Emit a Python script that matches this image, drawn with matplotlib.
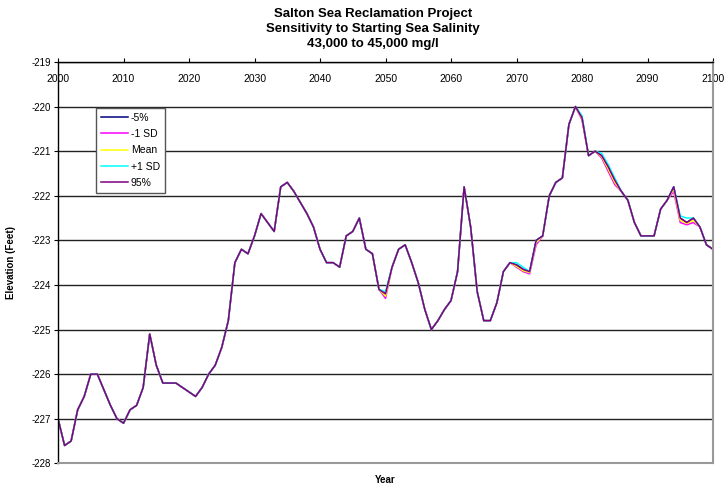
import matplotlib
matplotlib.use("Agg")
import matplotlib.pyplot as plt
import numpy as np

plt.rcParams['font.family'] = ['Liberation Sans', 'DejaVu Sans']
plt.rcParams['axes.unicode_minus'] = False

# Data (elevation in feet, one value per year)
years = list(range(2000, 2101))

elev_95 = [
    -227.0, -227.6, -227.5, -226.8, -226.5, -226.0, -226.0, -226.35, -226.7, -227.0,
    -227.1, -226.8, -226.7, -226.3, -225.1, -225.8, -226.2, -226.2, -226.2, -226.3,
    -226.4, -226.5, -226.3, -226.0, -225.8, -225.4, -224.8, -223.5, -223.2, -223.3,
    -222.9, -222.4, -222.6, -222.8, -221.8, -221.7, -221.9, -222.15, -222.4, -222.7,
    -223.2, -223.5, -223.5, -223.6, -222.9, -222.8, -222.5, -223.2, -223.3, -224.1,
    -224.2, -223.6, -223.2, -223.1, -223.5, -223.95, -224.55, -225.0, -224.8, -224.55,
    -224.35, -223.7, -221.8, -222.7, -224.15, -224.8, -224.8, -224.4, -223.7, -223.5,
    -223.55, -223.65, -223.7, -223.0, -222.9, -222.0, -221.7, -221.6, -220.4, -220.0,
    -220.25, -221.1, -221.0, -221.1, -221.35, -221.65, -221.9, -222.1, -222.6, -222.9,
    -222.9, -222.9, -222.3, -222.1, -221.8, -222.5, -222.6, -222.5, -222.7, -223.1,
    -223.2,
]

elev_minus5 = [
    -227.0, -227.6, -227.5, -226.8, -226.5, -226.0, -226.0, -226.35, -226.7, -227.0,
    -227.1, -226.8, -226.7, -226.3, -225.1, -225.8, -226.2, -226.2, -226.2, -226.3,
    -226.4, -226.5, -226.3, -226.0, -225.8, -225.4, -224.8, -223.5, -223.2, -223.3,
    -222.9, -222.4, -222.6, -222.8, -221.8, -221.7, -221.9, -222.15, -222.4, -222.7,
    -223.2, -223.5, -223.5, -223.6, -222.9, -222.8, -222.5, -223.2, -223.3, -224.1,
    -224.2, -223.6, -223.2, -223.1, -223.5, -223.95, -224.55, -225.0, -224.8, -224.55,
    -224.35, -223.7, -221.8, -222.7, -224.15, -224.8, -224.8, -224.4, -223.7, -223.5,
    -223.55, -223.65, -223.7, -223.0, -222.9, -222.0, -221.7, -221.6, -220.4, -220.0,
    -220.25, -221.1, -221.0, -221.1, -221.35, -221.65, -221.9, -222.1, -222.6, -222.9,
    -222.9, -222.9, -222.3, -222.1, -221.8, -222.5, -222.6, -222.5, -222.7, -223.1,
    -223.2,
]

elev_minus1sd = [
    -227.0, -227.6, -227.5, -226.8, -226.5, -226.0, -226.0, -226.35, -226.7, -227.0,
    -227.1, -226.8, -226.7, -226.3, -225.1, -225.8, -226.2, -226.2, -226.2, -226.3,
    -226.4, -226.5, -226.3, -226.0, -225.8, -225.4, -224.8, -223.5, -223.2, -223.3,
    -222.9, -222.4, -222.6, -222.8, -221.8, -221.7, -221.9, -222.15, -222.4, -222.7,
    -223.2, -223.5, -223.5, -223.6, -222.9, -222.8, -222.5, -223.2, -223.3, -224.1,
    -224.3, -223.6, -223.2, -223.1, -223.5, -223.95, -224.55, -225.0, -224.8, -224.55,
    -224.35, -223.7, -221.8, -222.7, -224.15, -224.8, -224.8, -224.4, -223.7, -223.5,
    -223.6, -223.7, -223.75, -223.1, -222.9, -222.0, -221.7, -221.6, -220.4, -220.0,
    -220.3, -221.1, -221.0, -221.15, -221.45, -221.75, -221.9, -222.1, -222.6, -222.9,
    -222.9, -222.9, -222.3, -222.1, -221.9, -222.6, -222.65, -222.6, -222.7, -223.1,
    -223.2,
]

elev_mean = [
    -227.0, -227.6, -227.5, -226.8, -226.5, -226.0, -226.0, -226.35, -226.7, -227.0,
    -227.1, -226.8, -226.7, -226.3, -225.1, -225.8, -226.2, -226.2, -226.2, -226.3,
    -226.4, -226.5, -226.3, -226.0, -225.8, -225.4, -224.8, -223.5, -223.2, -223.3,
    -222.9, -222.4, -222.6, -222.8, -221.8, -221.7, -221.9, -222.15, -222.4, -222.7,
    -223.2, -223.5, -223.5, -223.6, -222.9, -222.8, -222.5, -223.2, -223.3, -224.1,
    -224.25, -223.6, -223.2, -223.1, -223.5, -223.95, -224.55, -225.0, -224.8, -224.55,
    -224.35, -223.7, -221.8, -222.7, -224.15, -224.8, -224.8, -224.4, -223.7, -223.5,
    -223.58, -223.68, -223.72, -223.05, -222.9, -222.0, -221.7, -221.6, -220.4, -220.0,
    -220.27, -221.1, -221.0, -221.12, -221.4, -221.7, -221.9, -222.1, -222.6, -222.9,
    -222.9, -222.9, -222.3, -222.1, -221.85, -222.55, -222.62, -222.55, -222.7, -223.1,
    -223.2,
]

elev_plus1sd = [
    -227.0, -227.6, -227.5, -226.8, -226.5, -226.0, -226.0, -226.35, -226.7, -227.0,
    -227.1, -226.8, -226.7, -226.3, -225.1, -225.8, -226.2, -226.2, -226.2, -226.3,
    -226.4, -226.5, -226.3, -226.0, -225.8, -225.4, -224.8, -223.5, -223.2, -223.3,
    -222.9, -222.4, -222.6, -222.8, -221.8, -221.7, -221.9, -222.15, -222.4, -222.7,
    -223.2, -223.5, -223.5, -223.6, -222.9, -222.8, -222.5, -223.2, -223.3, -224.1,
    -224.15, -223.6, -223.2, -223.1, -223.5, -223.95, -224.55, -225.0, -224.8, -224.55,
    -224.35, -223.7, -221.8, -222.7, -224.15, -224.8, -224.8, -224.4, -223.7, -223.5,
    -223.5, -223.6, -223.7, -223.0, -222.9, -222.0, -221.7, -221.6, -220.4, -220.0,
    -220.2, -221.1, -221.0, -221.05, -221.3, -221.6, -221.9, -222.1, -222.6, -222.9,
    -222.9, -222.9, -222.3, -222.1, -221.8, -222.45, -222.5, -222.5, -222.7, -223.1,
    -223.2,
]

series_labels = ["-5%", "-1 SD", "Mean", "+1 SD", "95%"]
series_colors = ["#000080", "#FF00FF", "#FFFF00", "#00FFFF", "#800080"]
series_values = [elev_minus5, elev_minus1sd, elev_mean, elev_plus1sd, elev_95]

fig = plt.figure(figsize=(7.28, 4.91), dpi=100)
ax = fig.add_axes([0.0797, 0.0564, 0.8997, 0.8173])

for vals, lab, col in zip(series_values, series_labels, series_colors):
    ax.plot(years, vals, color=col, lw=1.1, label=lab)

ax.set_xlim(2000, 2100)
ax.set_ylim(-228, -219)
ax.set_xticks(np.arange(2000, 2101, 10))
ax.set_yticks(np.arange(-228, -218, 1))
ax.yaxis.set_major_formatter(plt.FuncFormatter(lambda v, p: f"{int(v)}"))

# Excel style: tick marks above the top spine, year labels just under it
ax.tick_params(axis='x', top=True, bottom=False, labeltop=True, labelbottom=False,
               direction='out', length=3, labelsize=7.5, pad=-19, color='black')
ax.tick_params(axis='y', direction='out', length=3, labelsize=7, pad=2, color='black')

ax.grid(axis='y', color='#222222', lw=1.0)
ax.set_axisbelow(True)
for side in ['left', 'top']:
    ax.spines[side].set_color('black')
    ax.spines[side].set_linewidth(1.0)
for side in ['right', 'bottom']:
    ax.spines[side].set_color('#999999')
    ax.spines[side].set_linewidth(1.5)

ax.set_ylabel("Elevation (Feet)", fontsize=7, fontweight='bold', labelpad=11)
fig.text(0.529, 0.022, "Year", ha='center', va='center', fontsize=7, fontweight='bold')

fig.text(0.512, 0.983, "Salton Sea Reclamation Project\nSensitivity to Starting Sea Salinity\n43,000 to 45,000 mg/l",
         ha='center', va='top', fontsize=9.5, fontweight='bold', linespacing=1.3)

leg = ax.legend(loc='upper left', bbox_to_anchor=(0.058, 0.885), borderaxespad=0, fontsize=7.5,
                handlelength=2.6, handletextpad=0.3, borderpad=0.45, labelspacing=0.6,
                fancybox=False, framealpha=1, edgecolor='#555555')
leg.get_frame().set_linewidth(1.0)

fig.savefig("out.png", dpi=100)
